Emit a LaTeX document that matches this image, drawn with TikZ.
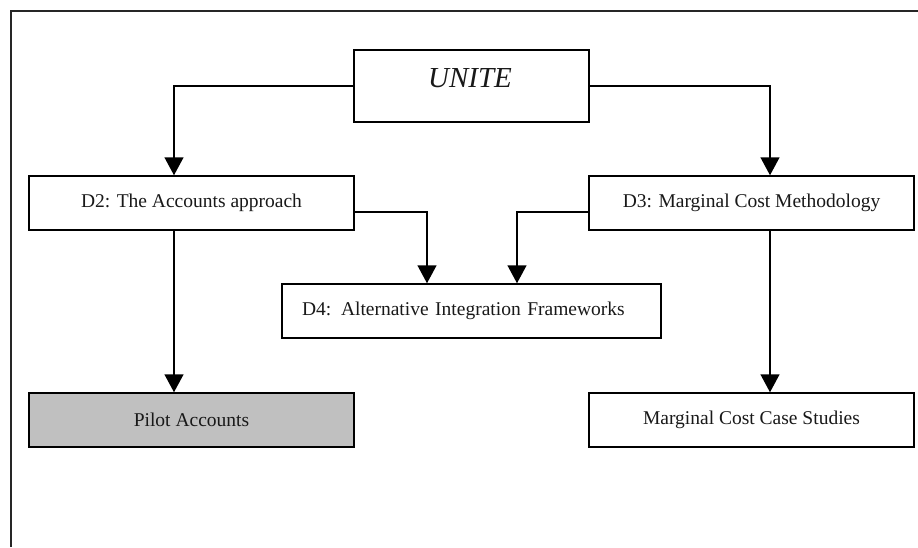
\documentclass[tikz,border=0pt]{standalone}
\usepackage{fontspec}
\setmainfont{Liberation Serif}
\usetikzlibrary{arrows.meta}
\begin{document}
\begin{tikzpicture}[x=1pt,y=-1pt,
  box/.style={draw=black, line width=1.5pt, fill=white, minimum width=325pt, minimum height=54pt, inner sep=0pt,
    font=\fontsize{19.5}{23}\selectfont, text=black!90},
  graybox/.style={box, fill={rgb,255:red,192;green,192;blue,192}},
  conn/.style={draw=black, line width=1.5pt, -{Triangle[length=18pt,width=19pt]}},
  frame/.style={draw=black!85, line width=1.6pt}]
\useasboundingbox (0,0) rectangle (918,547);
\draw[frame] (11,547) -- (11,11) -- (918,11);
\node[box, minimum width=235pt, minimum height=72pt] (unite) at (471.5,86) {};
\node[font=\fontsize{29}{34}\selectfont\itshape, text=black!90, inner sep=0pt] (unitetext) at (470,78) {UNITE};
\node[box] (d2) at (191.5,203) {D2: The Accounts approach};
\node[box] (d3) at (751.5,203) {D3: Marginal Cost Methodology};
\node[box, minimum width=0pt, text width=339pt, align=left, inner xsep=20pt] (d4) at (471.5,311) {D4: Alternative Integration Frameworks};
\node[graybox] (pilot) at (191.5,420) {Pilot Accounts};
\node[box] (mccs) at (751.5,420) {Marginal Cost Case Studies};
\draw[conn] (unite.west) -| ([xshift=-17.5pt]d2.north);
\draw[conn] (unite.east) -| ([xshift=18.5pt]d3.north);
\draw[conn] ([xshift=-17.5pt]d2.south) -- ([xshift=-17.5pt]pilot.north);
\draw[conn] ([xshift=18.5pt]d3.south) -- ([xshift=18.5pt]mccs.north);
\draw[conn] ([yshift=-9pt]d2.east) -| ([xshift=-44.5pt]d4.north);
\draw[conn] ([yshift=-9pt]d3.west) -| ([xshift=45.5pt]d4.north);
\end{tikzpicture}
\end{document}
